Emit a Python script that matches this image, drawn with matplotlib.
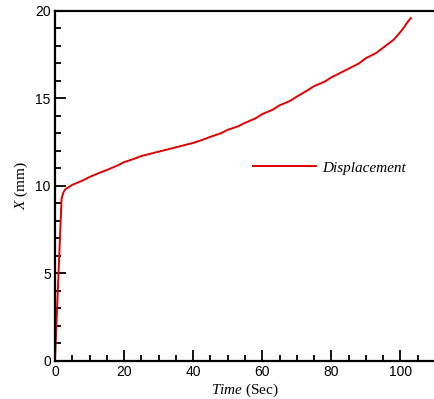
import matplotlib
matplotlib.use("Agg")
import matplotlib.pyplot as plt
from matplotlib.ticker import MultipleLocator

# displacement curve
time_s = [0, 1.0, 1.9, 2.4, 3, 5, 8, 10, 13, 15, 18, 20, 23, 25, 28, 30, 33, 35,
          38, 40, 43, 45, 48, 50, 53, 55, 58, 60, 63, 65, 68, 70, 73, 75, 78, 80,
          83, 85, 88, 90, 93, 95, 98, 100, 101, 102, 103]
disp_mm = [0, 4.9, 9.25, 9.6, 9.8, 10.05, 10.3, 10.5, 10.75, 10.9, 11.15, 11.35,
           11.55, 11.7, 11.85, 11.95, 12.1, 12.2, 12.35, 12.45, 12.65, 12.8, 13.0,
           13.2, 13.4, 13.6, 13.85, 14.1, 14.35, 14.6, 14.85, 15.1, 15.45, 15.7,
           15.95, 16.2, 16.5, 16.7, 17.0, 17.3, 17.6, 17.9, 18.35, 18.8, 19.05,
           19.35, 19.6]

plt.rcParams["mathtext.fontset"] = "custom"
plt.rcParams["mathtext.it"] = "Liberation Serif:italic"
plt.rcParams["mathtext.rm"] = "Liberation Serif"

fig = plt.figure(figsize=(4.35, 3.99), dpi=100)
ax = fig.add_axes([55 / 435, 1 - 360.5 / 399, 380 / 435, 349.5 / 399])

ax.plot(time_s, disp_mm, color="#e00000", lw=1.4, label="Displacement")

ax.set_xlim(0, 110)
ax.set_ylim(0, 20)
ax.xaxis.set_major_locator(MultipleLocator(20))
ax.xaxis.set_minor_locator(MultipleLocator(5))
ax.yaxis.set_major_locator(MultipleLocator(5))
ax.yaxis.set_minor_locator(MultipleLocator(1))
ax.set_xticks([0, 20, 40, 60, 80, 100])

ax.spines["right"].set_visible(False)
for s in ["left", "bottom", "top"]:
    ax.spines[s].set_linewidth(1.6)
ax.tick_params(which="both", direction="in", top=False, right=False,
               labelsize=10, width=1.3, labelfontfamily="Liberation Sans")
ax.tick_params(which="major", length=8, pad=3)
ax.tick_params(which="minor", length=4)

ax.set_xlabel(r"$Time$ (Sec)", fontsize=11, family="Liberation Serif", labelpad=2)
ax.set_ylabel(r"$X$ (mm)", fontsize=11, family="Liberation Serif", labelpad=4)

leg = ax.legend(loc="center left", bbox_to_anchor=(0.521, 0.551), frameon=False,
                borderpad=0, borderaxespad=0, handlelength=4.1, handletextpad=0.45,
                prop={"family": "Liberation Serif", "style": "italic", "size": 11})

fig.savefig("out.png", dpi=100)
